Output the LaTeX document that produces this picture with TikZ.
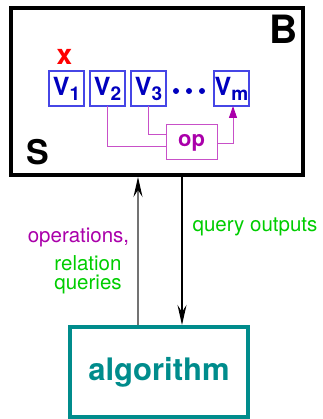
\documentclass[tikz,border=0pt]{standalone}
\usepackage{fontspec}
\setmainfont{TeX Gyre Heros}
\usetikzlibrary{arrows.meta,calc,positioning}
\definecolor{varblue}{RGB}{0,0,190}
\definecolor{varline}{RGB}{70,70,230}
\definecolor{opmag}{RGB}{170,0,170}
\definecolor{opline}{RGB}{200,80,200}
\definecolor{labgreen}{RGB}{0,205,0}
\definecolor{algteal}{RGB}{0,140,140}
\newcommand{\vsub}[1]{\raisebox{-5pt}{\fontsize{19}{19}\selectfont #1}}

\begin{document}
\begin{tikzpicture}[x=1pt,y=1pt,>={Stealth[length=20pt,width=9pt,inset=7pt]},
  frame/.style={draw,line width=4pt,minimum width=292pt,minimum height=167pt,inner sep=0pt},
  var/.style={draw=varline,line width=1.1pt,outer sep=0pt,inner sep=0pt,
    minimum width=35pt,minimum height=35pt,text=varblue,font=\fontsize{25}{25}\selectfont\bfseries},
  opbox/.style={draw=opline,line width=1pt,outer sep=0pt,minimum width=51pt,minimum height=35pt,
    text=opmag,font=\fontsize{22}{22}\selectfont\bfseries},
  algbox/.style={draw=algteal,line width=4pt,minimum width=178pt,minimum height=90pt,
    text=algteal,font=\fontsize{31}{31}\selectfont\bfseries},
  oplink/.style={opline,line width=1pt},
  flow/.style={->,line width=1.3pt},
  lab/.style={font=\fontsize{20.5}{19}\selectfont,inner sep=0pt}]

\useasboundingbox (0,0) rectangle (322,419);

\coordinate (up) at (138,0);
\coordinate (dn) at (182,0);

\node[frame] (store) at (157,327.5) {};
\node[font=\fontsize{39}{39}\selectfont\bfseries] (b) at (283.5,390) {B};
\node[font=\fontsize{34}{34}\selectfont\bfseries] (s) at (37.5,266.5) {S};

\node[var] (v1) at (66.5,330.5) {V\vsub{1}};
\node[var,right=6pt of v1] (v2) {V\vsub{2}};
\node[var,right=6pt of v2] (v3) {V\vsub{3}};
\node[var,right=48pt of v3] (vm) {V\vsub{m}};
\foreach \x in {176,189,202} \fill[varblue] (\x,328) circle (3pt);
\node[text=red,font=\fontsize{28}{28}\selectfont\bfseries] (del) at (64.5,362) {x};

\node[opbox] (op) at (191.5,276.5) {op};
\draw[oplink] (v2.south) |- ([yshift=-4.5pt]op.west);
\draw[oplink] (v3.south) |- ([yshift=7.5pt]op.west);
\draw[oplink,-{Triangle[length=12pt,width=8pt,opmag]}] ([yshift=-1.5pt]op.east) -| ([xshift=1.5pt]vm.south);

\node[algbox] (alg) at (159,47) {algorithm};

\draw[flow,black!55,-{Stealth[length=20pt,width=9pt,inset=7pt,black]}] (alg.north -| up) -- (store.south -| up);
\draw[flow] (store.south -| dn) -- (alg.north -| dn);

\node[lab,text=opmag] (ops) at (78.5,182) {operations,};
\node[lab,text=labgreen,align=center] (rq) at (88,144) {relation\\queries};
\node[lab,text=labgreen] (qo) at (255,192) {query outputs};
\end{tikzpicture}
\end{document}
